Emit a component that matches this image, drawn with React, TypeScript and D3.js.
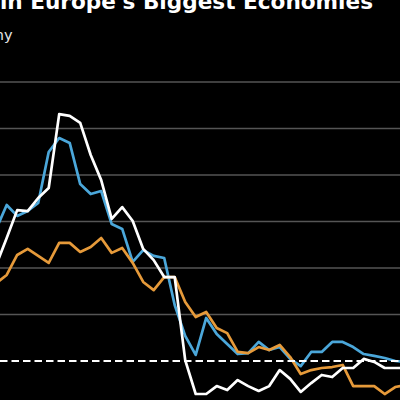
import React from "react";
import * as d3 from "d3";

const months = d3.range(40);
const gridValues = [2, 4, 6, 8, 10, 12];

const blueSeries = [5.68, 6.71, 6.24, 6.45, 6.8, 8.99, 9.59, 9.38, 7.61, 7.18, 7.31, 5.89, 5.68, 4.26, 4.77, 4.52, 4.43, 2.41, 1.08, 0.26, 1.85, 1.16, 0.73, 0.3, 0.34, 0.82, 0.47, 0.6, 0.09, -0.22, 0.39, 0.39, 0.82, 0.82, 0.6, 0.3, 0.22, 0.13, 0.0, -0.04];
const orangeSeries = [3.35, 3.7, 4.56, 4.82, 4.52, 4.22, 5.08, 5.08, 4.69, 4.9, 5.29, 4.65, 4.86, 4.22, 3.4, 3.05, 3.61, 3.61, 2.54, 1.89, 2.11, 1.42, 1.2, 0.39, 0.34, 0.6, 0.47, 0.69, 0.17, -0.56, -0.39, -0.3, -0.26, -0.17, -1.08, -1.08, -1.08, -1.42, -1.12, -1.03];
const whiteSeries = [4.13, 5.29, 6.49, 6.45, 7.01, 7.44, 10.62, 10.54, 10.24, 8.86, 7.78, 6.11, 6.62, 6.02, 4.82, 4.34, 3.61, 3.61, 0.04, -1.42, -1.42, -1.08, -1.25, -0.82, -1.08, -1.29, -1.08, -0.39, -0.77, -1.33, -0.95, -0.6, -0.69, -0.3, -0.3, 0.09, -0.04, -0.3, -0.3, -0.3];

const title = "Inflation Is Cooling in Europe's Biggest Economies";
const subtitle = "Germany";

export default function App() {
  const W = 400, H = 400;
  const x = d3.scaleLinear().domain([0, 39]).range([-3.8, 405.7]);
  const y = d3.scaleLinear().domain([0, 12]).range([361, 82]);
  const line = d3.line<number>().x((_, i) => x(months[i])).y((d) => y(d));
  const series = [
    { data: blueSeries, color: "#4ba7da" },
    { data: orangeSeries, color: "#e69a3a" },
    { data: whiteSeries, color: "#ffffff" },
  ];
  return (
    <svg width={W} height={H} style={{ position: "absolute", left: 0, top: 0, background: "#000" }}>
      <rect x={0} y={0} width={W} height={H} fill="#000" />
      <text x={373} y={8.5} textAnchor="end" fill="#fff" fontFamily="DejaVu Sans" fontWeight="bold" fontSize={21.6}>{title}</text>
      <text x={12.5} y={40} textAnchor="end" fill="#e6e6e6" fontFamily="DejaVu Sans" fontSize={14.5}>{subtitle}</text>
      {gridValues.map((v) => (
        <line key={v} x1={0} x2={W} y1={y(v)} y2={y(v)} stroke="#555" strokeWidth={1.5} />
      ))}
      {series.map((s, k) => (
        <path key={k} d={line(s.data) || ""} fill="none" stroke={s.color} strokeWidth={2.7} strokeLinejoin="round" strokeLinecap="round" />
      ))}
      <line x1={0} x2={W} y1={y(0)} y2={y(0)} stroke="#fff" strokeWidth={2.2} strokeDasharray="7.5,4" />
    </svg>
  );
}
